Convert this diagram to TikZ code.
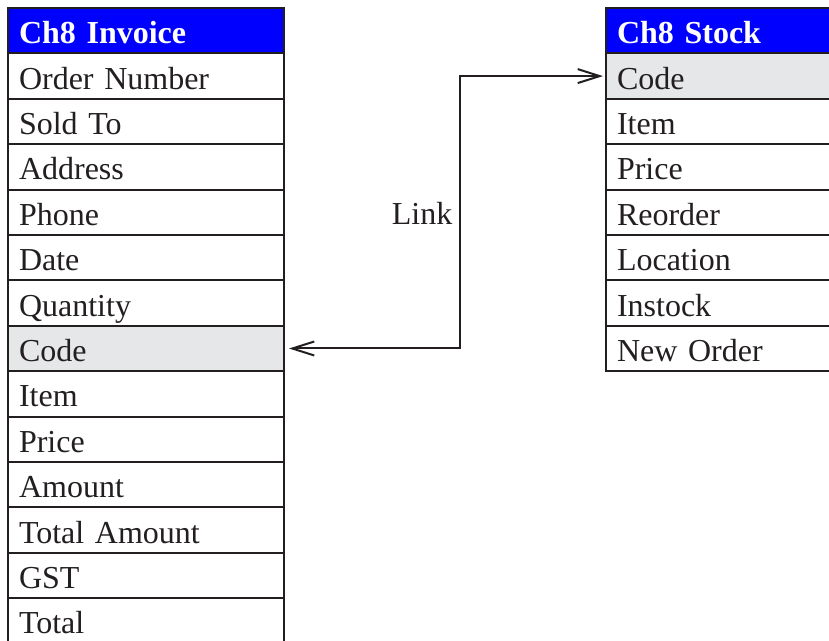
\documentclass[tikz,border=0pt]{standalone}
\usepackage{fontspec}
\setmainfont{Liberation Serif}
\usepackage{xcolor}
\usetikzlibrary{arrows.meta}

\definecolor{ink}{HTML}{231F20}
\definecolor{keygray}{HTML}{E6E7E8}

\tikzset{
  field/.style={draw=ink, line width=1pt, fill=white, text=ink,
    minimum width=138pt, minimum height=22.7pt, text width=127pt,
    text height=16pt, text depth=3pt,
    inner xsep=5.5pt, inner ysep=0pt, outer sep=0pt, align=left,
    anchor=north west, font=\fontsize{16}{19}\selectfont},
  keyfield/.style={field, fill=keygray},
  tablehead/.style={field, fill=blue, text=white,
    font=\fontsize{16}{19}\selectfont\bfseries},
  link/.style={draw=ink, line width=1pt,
    {Straight Barb[length=11pt,width=7pt]}-{Straight Barb[length=11pt,width=7pt]},
    shorten <=2.5pt, shorten >=1.5pt}
}

\begin{document}
\begin{tikzpicture}[x=1pt,y=1pt]
\useasboundingbox (0,0) rectangle (414.5,-320.5);
\clip (0,0) rectangle (414.5,-320.5);
% invoice table
\node[tablehead] (invhead) at (4,-4) {Ch8 Invoice};
\foreach \f/\s [count=\i] in {Order Number/field, Sold To/field, Address/field,
    Phone/field, Date/field, Quantity/field, Code/keyfield, Item/field,
    Price/field, Amount/field, Total Amount/field, GST/field, Total/field}{
	\node[\s] (inv\i) at (4,{-4-\i*22.7}) {\f};
	}
% stock table
\node[tablehead] (stkhead) at (303,-4) {Ch8 Stock};
\foreach \f/\s [count=\i] in {Code/keyfield, Item/field, Price/field,
    Reorder/field, Location/field, Instock/field, New Order/field}{
	\node[\s] (stk\i) at (303,{-4-\i*22.7}) {\f};
	}
% link between the two Code fields
\coordinate (bend) at (230,-106.5);
\draw[link] (inv7.east) -| (bend) node[left, text=ink, font=\fontsize{16}{19}\selectfont] (lnk) {Link} |- (stk1.west);
\end{tikzpicture}
\end{document}
